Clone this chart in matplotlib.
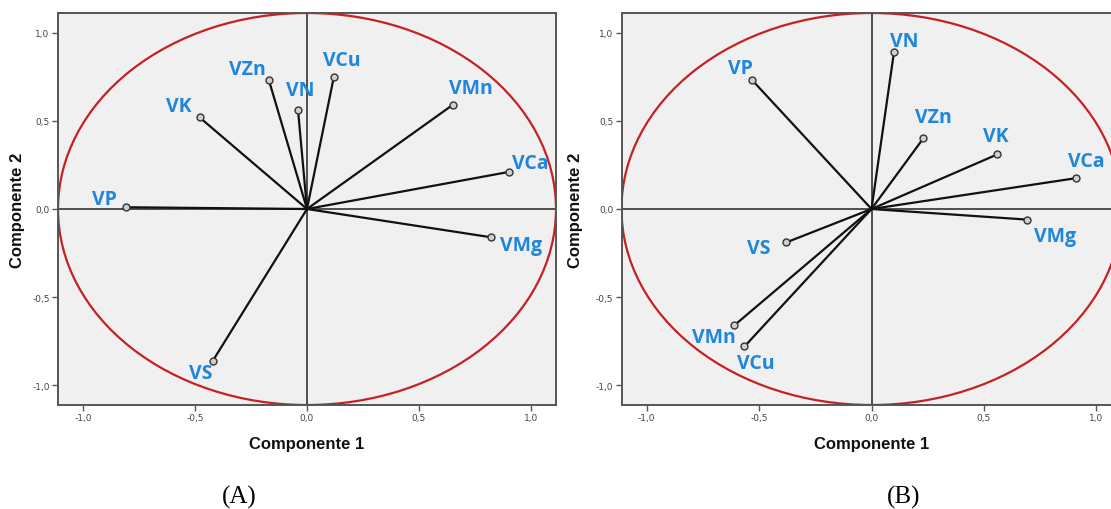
import numpy as np
import matplotlib
matplotlib.use("Agg")
import matplotlib.pyplot as plt
from matplotlib.patches import Ellipse
from matplotlib.ticker import FuncFormatter

# component loadings, panel (A)
vars_a = ['VP', 'VK', 'VZn', 'VN', 'VCu', 'VMn', 'VCa', 'VMg', 'VS']
comp1_a = [-0.81, -0.48, -0.17, -0.04, 0.12, 0.65, 0.90, 0.82, -0.42]
comp2_a = [0.01, 0.52, 0.73, 0.56, 0.75, 0.59, 0.21, -0.16, -0.86]

# component loadings, panel (B)
vars_b = ['VP', 'VN', 'VZn', 'VK', 'VCa', 'VMg', 'VS', 'VMn', 'VCu']
comp1_b = [-0.53, 0.10, 0.23, 0.56, 0.91, 0.69, -0.38, -0.61, -0.565]
comp2_b = [0.73, 0.89, 0.40, 0.31, 0.175, -0.06, -0.19, -0.66, -0.78]

ticks = [-1.0, -0.5, 0.0, 0.5, 1.0]

# label offsets in pixels (dx, dy) from the arrow tip
offs_a = [(-21, 8), (-21, 11), (-22, 11), (2, 20), (8, 17), (18, 17), (22, 9), (30, -8), (-12, -12)]
offs_b = [(-12, 12), (10, 11), (10, 21), (-2, 18), (10, 17), (28, -16), (-27, -6), (-20, -12), (11, -17)]

LIM = 1.112
BLUE = '#1f86dc'


def comma(v, pos):
    return ('%.1f' % v).replace('.', ',')


def draw_panel(ax, names, xs, ys, offs):
    ax.set_facecolor('#f0f0f0')
    ax.set_xlim(-LIM, LIM)
    ax.set_ylim(-LIM, LIM)
    ax.axhline(0, color='#222222', lw=1.1, zorder=1)
    ax.axvline(0, color='#222222', lw=1.1, zorder=1)
    ax.add_patch(Ellipse((0, 0), 2 * LIM, 2 * LIM, fill=False,
                         edgecolor='#c42127', lw=1.6, zorder=2))
    for name, x, y, (dx, dy) in zip(names, xs, ys, offs):
        ax.plot([0, x], [0, y], color='#111111', lw=1.6, zorder=3)
        ax.plot(x, y, 'o', ms=5, mfc='#cfcfcf', mec='#333333', mew=1.0, zorder=4)
        ax.annotate(name, (x, y), xytext=(dx, dy), textcoords='offset pixels',
                    ha='center', va='center', color=BLUE, fontsize=14,
                    fontweight='bold', family='Open Sans', zorder=5)
    ax.set_xticks(ticks)
    ax.set_yticks(ticks)
    ax.xaxis.set_major_formatter(FuncFormatter(comma))
    ax.yaxis.set_major_formatter(FuncFormatter(comma))
    ax.tick_params(direction='out', length=4, width=1, color='#555555',
                   labelsize=6.5, labelcolor='#444444', pad=2)
    for s in ax.spines.values():
        s.set_color('#555555')
        s.set_linewidth(1.4)
    ax.set_xlabel('Componente 1', fontsize=12, fontweight='bold',
                  family='Liberation Sans', color='#111111')
    ax.set_ylabel('Componente 2', fontsize=12, fontweight='bold',
                  family='Liberation Sans', color='#111111')


def main():
    fig = plt.figure(figsize=(11.11, 5.10), dpi=100)

    ax_a = fig.add_axes([58 / 1111, 104 / 510, 498 / 1111, 392 / 510])
    draw_panel(ax_a, vars_a, comp1_a, comp2_a, offs_a)
    ax_a.xaxis.set_label_coords(0.5, -0.08)
    ax_a.yaxis.set_label_coords(-0.066, 0.5)

    ax_b = fig.add_axes([621.5 / 1111, 104 / 510, 500 / 1111, 392 / 510])
    draw_panel(ax_b, vars_b, comp1_b, comp2_b, offs_b)
    ax_b.xaxis.set_label_coords(0.5, -0.08)
    ax_b.yaxis.set_label_coords(-0.077, 0.5)

    fig.text(239.5 / 1111, 1 - 497 / 510, '(A)', ha='center', va='center',
             fontsize=18, family='Liberation Serif')
    fig.text(904 / 1111, 1 - 497 / 510, '(B)', ha='center', va='center',
             fontsize=18, family='Liberation Serif')

    fig.savefig('out.png', dpi=100, facecolor='white')


if __name__ == "__main__":
    main()
